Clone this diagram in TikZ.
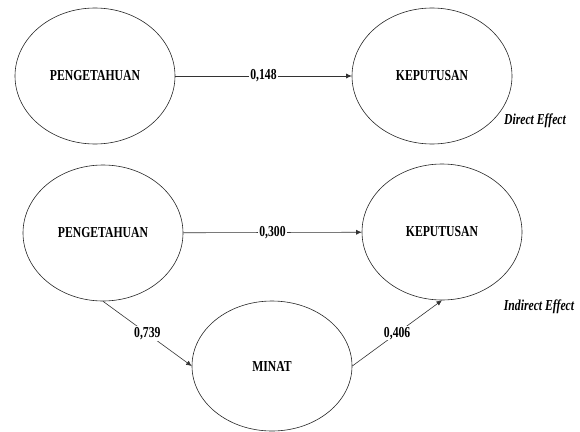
\documentclass[tikz,border=0pt]{standalone}
\usepackage{graphicx}
\usepackage{fontspec}
\setmainfont{Liberation Serif}
\usetikzlibrary{positioning, shapes.geometric, arrows.meta}
\newcommand{\tallt}[1]{\scalebox{1}[1.3]{#1}}
\tikzset{
    latent/.style={ellipse, draw=black!85, line width=0.6pt, fill=white, minimum width=160pt, minimum height=136pt, inner sep=0pt,
        font=\fontsize{11.7}{12}\selectfont\bfseries},
    path/.style={draw=black!80, line width=0.6pt, -{Latex[length=5.5pt, width=5pt]}},
    coef/.style={fill=white, inner sep=1pt, font=\fontsize{11.7}{12}\selectfont\bfseries},
    effect/.style={font=\fontsize{11.7}{12}\selectfont\bfseries\itshape},
}
\begin{document}
\begin{tikzpicture}[x=1pt, y=-1pt]
        \useasboundingbox (0,0) rectangle (580,431);
        % direct effect
        \node [latent] (peng1) at (95,76) {\tallt{PENGETAHUAN}};
        \node [latent] (kep1) at (432,76) {\tallt{KEPUTUSAN}};
        \node [effect] (direct) at (535,121) {\tallt{Direct Effect}};
        \draw[path] (peng1) -- node[coef] {\tallt{0,148}} (kep1);
        % indirect effect
        \node [latent] (peng2) at (103,233) {\tallt{PENGETAHUAN}};
        \node [latent] (kep2) at (442,232) {\tallt{KEPUTUSAN}};
        \node [latent, minimum height=130pt] (minat) at (272,366) {\tallt{MINAT}};
        \node [effect] (indirect) at (539,307) {\tallt{Indirect Effect}};
        \draw[path] (peng2) -- node[coef] {\tallt{0,300}} (kep2);
        \draw[path] (peng2.south) -- node[coef] {\tallt{0,739}} (minat.west);
        \draw[path] (minat.east) -- node[coef] {\tallt{0,406}} (kep2.south);
    \end{tikzpicture}
\end{document}
